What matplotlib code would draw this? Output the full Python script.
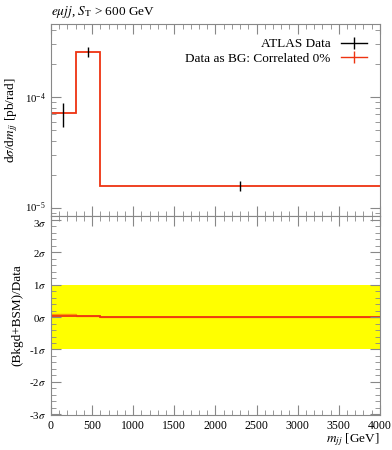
import numpy as np
import matplotlib
matplotlib.use('Agg')
import matplotlib.pyplot as plt
import matplotlib.transforms as mtransforms
from matplotlib.lines import Line2D
from matplotlib.ticker import MultipleLocator, FixedLocator, NullFormatter, LogLocator

plt.rcParams['font.family'] = 'Liberation Serif'
plt.rcParams['mathtext.fontset'] = 'stix'
plt.rcParams['font.size'] = 9

# binned data
edges = [0, 300, 600, 4000]
centers = [150, 450, 2300]
data = [7.2e-5, 2.54e-4, 1.58e-5]
err_up = [1.7e-5, 2.6e-5, 1.6e-6]
err_dn = [1.8e-5, 2.6e-5, 1.6e-6]
bg = [7.2e-5, 2.54e-4, 1.58e-5]

# significance of (Bkgd+BSM) vs data
sig_red = [0.03, 0.02, 0.0]
sig_orange = [0.08, 0.04, 0.01]

sig_ticks = [-3, -2, -1, 0, 1, 2, 3]
sig_labels = ['-3$\\sigma$', '-2$\\sigma$', '-1$\\sigma$', '0$\\sigma$', '1$\\sigma$', '2$\\sigma$', '3$\\sigma$']

red = '#ee3311'
tick_col = '#888888'

fig = plt.figure(figsize=(3.92, 4.5), dpi=100)
ax1 = fig.add_axes([0.130, 0.520, 0.839, 0.427])
ax2 = fig.add_axes([0.130, 0.078, 0.839, 0.442])

# top panel
ax1.stairs(bg, edges, color=red, lw=1.3, baseline=None)
ax1.errorbar(centers, data, yerr=[err_dn, err_up], fmt='none', ecolor='black', elinewidth=1.0)
ax1.set_yscale('log')
ax1.set_xlim(0, 4000)
ax1.set_ylim(8.5e-6, 4.55e-4)
ax1.xaxis.set_major_locator(MultipleLocator(500))
ax1.xaxis.set_minor_locator(MultipleLocator(100))
ax1.xaxis.set_major_formatter(NullFormatter())
ax1.yaxis.set_major_locator(LogLocator(base=10, numticks=10))
ax1.yaxis.set_minor_locator(LogLocator(base=10, subs=np.arange(2, 10), numticks=10))
ax1.yaxis.set_minor_formatter(NullFormatter())
ax1.set_ylabel('d$\\sigma$/d$m_{jj}$ [pb/rad]', fontsize=9.5)
ax1.text(0.0, 1.02, '$e\\mu jj$, $S_\\mathrm{T}$ > 600 GeV', transform=ax1.transAxes,
         ha='left', va='bottom', fontsize=9.5)

h1 = Line2D([], [], color='black', lw=1.0, marker='|', markersize=9, markeredgewidth=1.0)
h2 = Line2D([], [], color=red, lw=1.0, marker='|', markersize=9, markeredgewidth=1.0)
ax1.legend([h1, h2], ['ATLAS Data', 'Data as BG: Correlated 0%'], loc='upper right',
           frameon=False, markerfirst=False, fontsize=9.5, handlelength=2.0,
           borderaxespad=0.3, labelspacing=0.2, bbox_to_anchor=(0.99, 0.975))

# bottom panel
ax2.axhspan(-1, 1, color='#ffff00', lw=0)
ax2.stairs(sig_orange, edges, color='#ff9900', lw=1.0, baseline=None)
ax2.stairs(sig_red, edges, color=red, lw=1.3, baseline=None)
ax2.set_xlim(0, 4000)
ax2.set_ylim(-3.02, 3.12)
ax2.xaxis.set_major_locator(MultipleLocator(500))
ax2.xaxis.set_minor_locator(MultipleLocator(100))
ax2.yaxis.set_major_locator(FixedLocator(sig_ticks))
ax2.set_yticklabels(sig_labels)
ax2.yaxis.set_minor_locator(MultipleLocator(0.2))
ax2.set_ylabel('(Bkgd+BSM)/Data', fontsize=9.5)
ax2.set_xlabel('$m_{jj}$ [GeV]', fontsize=9.5, loc='right', labelpad=0)

for ax in (ax1, ax2):
    ax.tick_params(which='both', direction='in', top=True, right=True, color=tick_col, labelsize=8.5)
    ax.tick_params(axis='y', labelsize=7.8)
    ax.tick_params(which='major', length=7)
    ax.tick_params(which='minor', length=3.5)
    for s in ax.spines.values():
        s.set_color(tick_col)

# nudge the two crowded labels at the panel join apart
fig.canvas.draw()
up = mtransforms.ScaledTranslation(0, 2.5 / 100, fig.dpi_scale_trans)
down = mtransforms.ScaledTranslation(0, -2.5 / 100, fig.dpi_scale_trans)
for lab in ax1.get_yticklabels():
    if lab.get_position()[1] == 1e-5:
        lab.set_transform(lab.get_transform() + up)
ax2.get_yticklabels()[-1].set_transform(ax2.get_yticklabels()[-1].get_transform() + down)

fig.savefig('out.png', dpi=100)
